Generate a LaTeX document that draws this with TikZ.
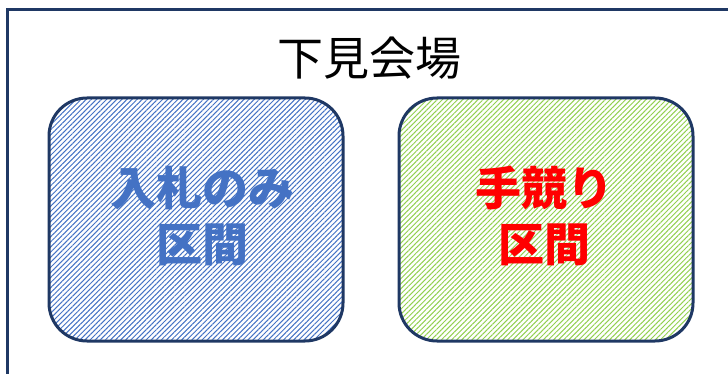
\documentclass[tikz,border=0pt]{standalone}
\usepackage{fontspec}
\newfontfamily\cjk{Noto Sans CJK JP}
\usetikzlibrary{patterns.meta}
\definecolor{navy}{HTML}{1F3864}
\definecolor{hatchblue}{HTML}{4472C4}
\definecolor{hatchgreen}{HTML}{92D050}
\begin{document}
\begin{tikzpicture}[x=1pt,y=-1pt,
  zone/.style={draw=navy,line width=3pt,rounded corners=38pt},
  hatch/.style={pattern={Lines[angle=45,distance=3.6pt,line width=1pt]}},
  zonetext/.style={font=\cjk\bfseries\fontsize{46pt}{56pt}\selectfont,align=center}]
\useasboundingbox (0,0) rectangle (728,374);
\begin{scope}
\clip (0,0) rectangle (728,374);
\draw[navy,line width=3pt] (7.5,9.5) rectangle (760,400);
\end{scope}
\node[font=\cjk\fontsize{46pt}{50pt}\selectfont,anchor=center] (title) at (369,58) {下見会場};
\path[zone,hatch,pattern color=hatchblue] (49,98) rectangle (343,341);
\path[zone,hatch,pattern color=hatchgreen] (399,98) rectangle (693,341);
\node[zonetext,text=hatchblue] (bid) at (202,216) {入札のみ\\区間};
\node[zonetext,text=red] (auction) at (544,216) {手競り\\区間};
\end{tikzpicture}
\end{document}
